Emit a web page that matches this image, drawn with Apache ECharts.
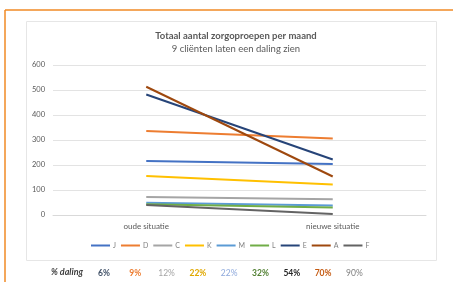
<!DOCTYPE html>
<html>
<head>
<meta charset="utf-8">
<script src="https://cdn.jsdelivr.net/npm/echarts@6/dist/echarts.min.js"></script>
<style>
  html, body { margin: 0; padding: 0; background: #fff; }
  #main { width: 453px; height: 282px; }
</style>
</head>
<body>
<div id="main"></div>
<script>
// categorieen en waarden per client
var categories = ['oude situatie', 'nieuwe situatie'];
var clients = ['J', 'D', 'C', 'K', 'M', 'L', 'E', 'A', 'F'];
var oudeWaarden = [216, 336, 72, 156, 49, 43, 482, 513, 40];
var nieuweWaarden = [204, 306, 63, 122, 38, 30, 222, 154, 4];
var dalingLabels = ['6%', '9%', '12%', '22%', '22%', '32%', '54%', '70%', '90%'];
var yTicks = [0, 100, 200, 300, 400, 500, 600];

var lineColors = ['#4472C4', '#ED7D31', '#A5A5A5', '#FFC000', '#5B9BD5', '#70AD47', '#264478', '#9E480E', '#636363'];
var dalingColors = ['#44546A', '#ED7D31', '#A5A5A5', '#E0A800', '#8FAADC', '#548235', '#262626', '#C55A11', '#808080'];
var dalingBold = [true, true, false, true, false, true, true, true, false];

var font = 'Lato, "Open Sans", sans-serif';

var series = clients.map(function (name, i) {
    return {
        name: name,
        type: 'line',
        data: [oudeWaarden[i], nieuweWaarden[i]],
        symbol: 'none',
        lineStyle: { width: 2, color: lineColors[i] },
        itemStyle: { color: lineColors[i] }
    };
});

var graphics = [
    // oranje rand
    { type: 'line', shape: { x1: 5, y1: 10, x2: 5, y2: 282 }, style: { stroke: '#F08A24', lineWidth: 1.5 } },
    { type: 'line', shape: { x1: 5, y1: 10, x2: 453, y2: 10 }, style: { stroke: '#F08A24', lineWidth: 1.5 } },
    // kader van de grafiek
    { type: 'rect', shape: { x: 26.5, y: 21.5, width: 410, height: 239 }, style: { fill: 'none', stroke: '#E6E6E6', lineWidth: 1 }, z: -1 },
    { type: 'text', left: 51, top: 268, style: { text: '% daling', font: 'italic bold 9px ' + font, fill: '#404040' } }
];
dalingLabels.forEach(function (t, i) {
    graphics.push({
        type: 'text',
        x: 104 + i * 31.3,
        y: 273,
        style: {
            text: t,
            align: 'center',
            verticalAlign: 'middle',
            font: (dalingBold[i] ? 'bold ' : '') + '8.5px ' + font,
            fill: dalingColors[i]
        }
    });
});

var myChart = echarts.init(document.getElementById('main'));
myChart.setOption({
    animation: false,
    color: lineColors,
    title: {
        text: 'Totaal aantal zorgoproepen per maand',
        subtext: '9 cliënten laten een daling zien',
        left: 231,
        textAlign: 'center',
        top: 26,
        itemGap: 3,
        textStyle: { fontFamily: font, fontSize: 9.5, fontWeight: 'bold', color: '#595959' },
        subtextStyle: { fontFamily: font, fontSize: 9.5, color: '#595959' }
    },
    legend: {
        data: clients,
        left: 91,
        top: 242,
        padding: 0,
        icon: 'rect',
        itemWidth: 19,
        itemHeight: 2,
        itemGap: 5,
        textStyle: { fontFamily: font, fontSize: 7, color: '#808080', padding: [0, 0, 0, -2] }
    },
    grid: { left: 53, right: 27, top: 65, bottom: 67 },
    xAxis: {
        type: 'category',
        data: categories,
        boundaryGap: true,
        axisTick: { show: false },
        axisLine: { lineStyle: { color: '#D9D9D9' } },
        axisLabel: { fontFamily: font, fontSize: 8, color: '#595959', margin: 7 }
    },
    yAxis: {
        type: 'value',
        min: yTicks[0],
        max: yTicks[yTicks.length - 1],
        interval: 100,
        axisLabel: { fontFamily: font, fontSize: 7.5, color: '#595959', margin: 8 },
        splitLine: { lineStyle: { color: '#E3E3E3' } }
    },
    series: series,
    graphic: graphics
});
</script>
</body>
</html>
